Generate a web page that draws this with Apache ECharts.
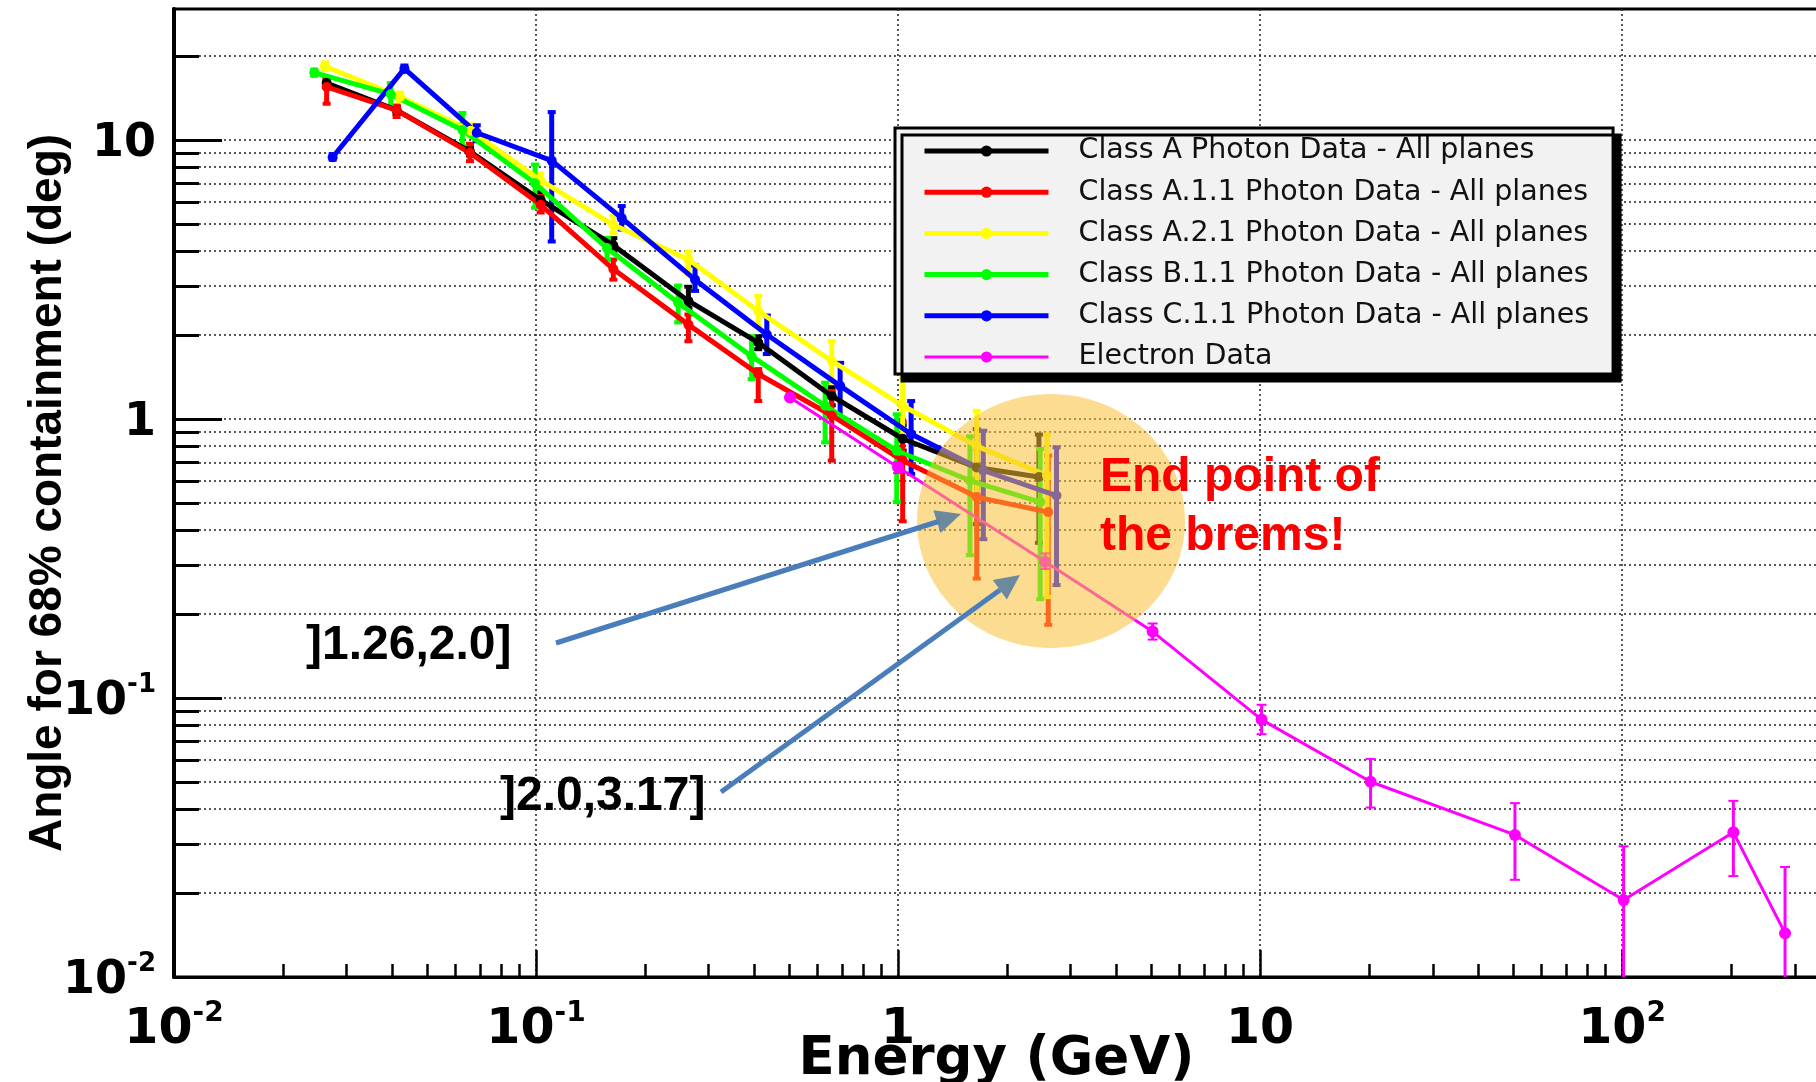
<!DOCTYPE html>
<html><head><meta charset="utf-8">
<script src="https://cdn.jsdelivr.net/npm/echarts@6/dist/echarts.min.js"></script>
<style>html,body{margin:0;padding:0;background:#fff}#c{width:1816px;height:1082px}</style>
</head><body><div id="c"></div>
<script>
// ---------- data ----------
const seriesNames = [
  'Class A Photon Data - All planes',
  'Class A.1.1 Photon Data - All planes',
  'Class A.2.1 Photon Data - All planes',
  'Class B.1.1 Photon Data - All planes',
  'Class C.1.1 Photon Data - All planes',
  'Electron Data'
];
const seriesColors = ['#000000', '#ff0000', '#ffff00', '#00ff00', '#0000ff', '#ff00ff'];

const classA_E     = [0.0264, 0.0412, 0.0657, 0.103, 0.1635, 0.2636, 0.411, 0.656, 1.03, 1.65, 2.45];
const classA_theta = [16.0, 12.8, 9.1, 6.1, 4.2, 2.65, 1.88, 1.21, 0.85, 0.67, 0.62];
const classA_lo    = [15.5, 12.4, 8.8, 5.8, 4.0, 2.5, 1.78, 1.12, 0.77, 0.42, 0.36];
const classA_hi    = [16.6, 13.2, 9.4, 6.5, 4.45, 2.98, 1.98, 1.30, 0.95, 0.92, 0.88];

const classA11_E     = [0.0264, 0.0412, 0.0657, 0.103, 0.1635, 0.2636, 0.411, 0.656, 1.03, 1.65, 2.6];
const classA11_theta = [15.5, 12.8, 9.0, 5.86, 3.45, 2.18, 1.45, 1.03, 0.71, 0.525, 0.464];
const classA11_lo    = [13.5, 12.1, 8.4, 5.5, 3.16, 1.90, 1.16, 0.71, 0.43, 0.268, 0.183];
const classA11_hi    = [16.6, 13.3, 9.7, 6.3, 3.73, 2.37, 1.51, 1.26, 0.98, 0.785, 0.74];

const classA21_E     = [0.0261, 0.0421, 0.066, 0.1025, 0.1635, 0.2636, 0.411, 0.656, 1.03, 1.65, 2.58];
const classA21_theta = [18.4, 14.3, 10.8, 7.2, 4.97, 3.73, 2.44, 1.615, 1.116, 0.80, 0.627];
const classA21_lo    = [17.8, 13.8, 10.3, 6.8, 4.65, 3.30, 2.15, 1.35, 0.87, 0.53, 0.23];
const classA21_hi    = [19.0, 14.8, 11.4, 7.6, 5.34, 3.99, 2.76, 1.90, 1.40, 1.07, 0.88];

const classB11_E     = [0.0244, 0.0397, 0.0626, 0.0994, 0.157, 0.247, 0.394, 0.629, 0.992, 1.58, 2.47];
const classB11_theta = [17.45, 14.6, 10.86, 7.0, 4.1, 2.61, 1.68, 1.116, 0.77, 0.602, 0.504];
const classB11_lo    = [17.0, 13.1, 9.5, 5.72, 3.73, 2.22, 1.39, 0.825, 0.504, 0.325, 0.226];
const classB11_hi    = [17.9, 16.0, 12.5, 8.17, 4.46, 3.01, 1.98, 1.35, 1.04, 0.867, 0.781];

const classC11_E     = [0.02743, 0.0433, 0.0686, 0.1105, 0.1725, 0.275, 0.434, 0.692, 1.087, 1.72, 2.74];
const classC11_theta = [8.68, 18.03, 10.62, 8.44, 5.25, 3.16, 2.01, 1.315, 0.884, 0.654, 0.532];
const classC11_lo    = [8.5, 17.6, 9.9, 4.33, 4.78, 2.88, 1.71, 1.01, 0.636, 0.371, 0.254];
const classC11_hi    = [8.9, 18.5, 11.3, 12.6, 5.8, 3.55, 2.35, 1.59, 1.16, 0.908, 0.792];

const electron_E     = [0.503, 1.0, 2.55, 5.05, 10.1, 20.2, 50.6, 101, 203, 282];
const electron_theta = [1.195, 0.672, 0.308, 0.173, 0.0837, 0.0501, 0.0323, 0.01888, 0.0330, 0.01436];
const electron_lo    = [1.17, 0.64, 0.29, 0.162, 0.0742, 0.0405, 0.0223, 0.0084, 0.0230, 0.0040];
const electron_hi    = [1.22, 0.70, 0.33, 0.185, 0.0946, 0.0605, 0.0420, 0.0294, 0.0428, 0.0248];

const xMajorTicks = [0.01, 0.1, 1, 10, 100];
const xMinorTicks = [0.02,0.03,0.04,0.05,0.06,0.07,0.08,0.09, 0.2,0.3,0.4,0.5,0.6,0.7,0.8,0.9,
                     2,3,4,5,6,7,8,9, 20,30,40,50,60,70,80,90, 200,300];
const yMajorTicks = [0.01, 0.1, 1, 10];
const yMinorTicks = [0.02,0.03,0.04,0.05,0.06,0.07,0.08,0.09, 0.2,0.3,0.4,0.5,0.6,0.7,0.8,0.9,
                     2,3,4,5,6,7,8,9, 20];

const xTitle = 'Energy (GeV)';
const yTitle = 'Angle for 68% containment (deg)';

// ---------- build ----------
const allE = [classA_E, classA11_E, classA21_E, classB11_E, classC11_E, electron_E];
const allT = [classA_theta, classA11_theta, classA21_theta, classB11_theta, classC11_theta, electron_theta];
const allLo = [classA_lo, classA11_lo, classA21_lo, classB11_lo, classC11_lo, electron_lo];
const allHi = [classA_hi, classA11_hi, classA21_hi, classB11_hi, classC11_hi, electron_hi];

const BOLD = "'DejaVu Sans', sans-serif";
function powLabel(v) {
  const e = Math.round(Math.log10(v));
  if (e === 0) return '{b|1}';
  if (e === 1) return '{b|10}';
  return '{b|10}{s|' + e + '}';
}
function makeRich(big, small) {
  return {
    b: {fontFamily: BOLD, fontWeight: 'bold', fontSize: big, lineHeight: 60, color: '#000'},
    s: {fontFamily: BOLD, fontWeight: 'bold', fontSize: small, lineHeight: small, verticalAlign: 'top', color: '#000'}
  };
}
const gridDots = {color: '#222', type: [2, 3], width: 1.5};

const series = [];
for (let i = 0; i < 6; i++) {
  const isE = i === 5;
  const color = seriesColors[i];
  series.push({
    type: 'line', name: seriesNames[i],
    data: allE[i].map((e, k) => [e, allT[i][k]]),
    symbol: 'circle', symbolSize: isE ? 12 : 10,
    lineStyle: {color: color, width: isE ? 3 : 5},
    itemStyle: {color: color},
    animation: false, z: 3
  });
  series.push({
    type: 'custom', name: 'err' + i, clip: true, z: 3, animation: false,
    data: allE[i].map((e, k) => [e, allLo[i][k], allHi[i][k]]),
    encode: {x: 0, y: [1, 2]},
    renderItem: function (params, api) {
      const x = api.value(0);
      const p1 = api.coord([x, api.value(1)]);
      const p2 = api.coord([x, api.value(2)]);
      const cap = isE ? 5 : 4;
      const w = isE ? 3 : 5;
      const cw = isE ? 2 : 4;
      return {type: 'group', children: [
        {type: 'line', shape: {x1: p1[0], y1: p1[1], x2: p2[0], y2: p2[1]}, style: {stroke: color, lineWidth: w}},
        {type: 'line', shape: {x1: p1[0] - cap, y1: p1[1], x2: p1[0] + cap, y2: p1[1]}, style: {stroke: color, lineWidth: cw}},
        {type: 'line', shape: {x1: p2[0] - cap, y1: p2[1], x2: p2[0] + cap, y2: p2[1]}, style: {stroke: color, lineWidth: cw}}
      ]};
    }
  });
}

const legendData = seriesNames.map((n, i) => ({name: n, lineStyle: {width: i === 5 ? 3 : 5}}));

const chart = echarts.init(document.getElementById('c'), null, {renderer: 'canvas'});
chart.setOption({
  backgroundColor: '#ffffff',
  animation: false,
  grid: {left: 174, top: 9, right: -3, bottom: 105, show: true, borderColor: '#000', borderWidth: 3,
         backgroundColor: 'transparent', containLabel: false, outerBoundsMode: 'none'},
  xAxis: [
    {type: 'log', logBase: 10, min: 0.01, max: 350, position: 'bottom',
     axisLine: {show: true, onZero: false, lineStyle: {color: '#000', width: 3}},
     axisTick: {show: true, inside: true, length: 27, lineStyle: {color: '#000', width: 2.5}, customValues: xMajorTicks},
     axisLabel: {show: true, customValues: xMajorTicks, formatter: powLabel, rich: makeRich(49, 28), margin: 23},
     splitLine: {show: true, lineStyle: gridDots},
     name: xTitle, nameLocation: 'middle', nameGap: 57, nameMoveOverlap: false,
     nameTextStyle: {fontFamily: BOLD, fontWeight: 'bold', fontSize: 53, color: '#000', verticalAlign: 'top'}},
    {type: 'log', logBase: 10, min: 0.01, max: 350, position: 'bottom',
     axisLine: {show: false},
     axisTick: {show: true, inside: true, length: 13, lineStyle: {color: '#000', width: 2.5}, customValues: xMinorTicks},
     axisLabel: {show: false}, splitLine: {show: false}}
  ],
  yAxis: [
    {type: 'log', logBase: 10, min: 0.01, max: 29.5, position: 'left',
     axisLine: {show: true, onZero: false, lineStyle: {color: '#000', width: 4}},
     axisTick: {show: true, inside: true, length: 48, lineStyle: {color: '#000', width: 3}, customValues: yMajorTicks},
     axisLabel: {show: true, customValues: yMajorTicks, formatter: powLabel, rich: makeRich(46, 26), margin: 18, padding: [8, 0, 0, 0]},
     splitLine: {show: true, lineStyle: gridDots},
     name: yTitle, nameLocation: 'middle', nameGap: 103, nameRotate: 90, nameMoveOverlap: false,
     nameTextStyle: {fontFamily: "'Liberation Sans', Arial, sans-serif", fontWeight: 'bold', fontSize: 46, color: '#000'}},
    {type: 'log', logBase: 10, min: 0.01, max: 29.5, position: 'left',
     axisLine: {show: false},
     axisTick: {show: true, inside: true, length: 25, lineStyle: {color: '#000', width: 3}, customValues: yMinorTicks},
     axisLabel: {show: false},
     splitLine: {show: true, lineStyle: gridDots}}
  ],
  legend: {
    data: legendData, orient: 'vertical', left: 895, top: 128,
    padding: [8, 24, 2, 27], itemGap: 11.2, itemWidth: 124, itemHeight: 14,
    backgroundColor: '#f2f2f2', borderColor: '#000', borderWidth: 3, borderRadius: 0,
    shadowColor: '#000', shadowOffsetX: 7, shadowOffsetY: 7, shadowBlur: 0.5,
    selectedMode: false,
    textStyle: {fontFamily: "'DejaVu Sans', sans-serif", fontSize: 28.5, lineHeight: 30, color: '#111', padding: [0, 0, 0, 25]}
  },
  series: series,
  graphic: [
    {type: 'ellipse', shape: {cx: 1051, cy: 521, rx: 134, ry: 127}, style: {fill: 'rgba(247,192,55,0.55)'}, z: 100},
    {type: 'text', x: 1100, y: 478, z: 110, style: {text: 'End point of', font: 'bold 48px "Liberation Sans", Arial, sans-serif', fill: '#ff0000', verticalAlign: 'middle'}},
    {type: 'text', x: 1100, y: 537, z: 110, style: {text: 'the brems!', font: 'bold 48px "Liberation Sans", Arial, sans-serif', fill: '#ff0000', verticalAlign: 'middle'}},
    {type: 'text', x: 306, y: 646, z: 110, style: {text: ']1.26,2.0]', font: 'bold 48px "Liberation Sans", Arial, sans-serif', fill: '#000', verticalAlign: 'middle'}},
    {type: 'text', x: 500, y: 797, z: 110, style: {text: ']2.0,3.17]', font: 'bold 48px "Liberation Sans", Arial, sans-serif', fill: '#000', verticalAlign: 'middle'}},
    {type: 'line', z: 110, shape: {x1: 556, y1: 643, x2: 940, y2: 521}, style: {stroke: '#4a7ebb', lineWidth: 5}},
    {type: 'polygon', z: 111, shape: {points: [[961, 514], [940.6, 533], [933.4, 510.2]]}, style: {fill: '#5d7f9e', opacity: 0.9}},
    {type: 'line', z: 110, shape: {x1: 721, y1: 792, x2: 1000, y2: 590}, style: {stroke: '#4a7ebb', lineWidth: 5}},
    {type: 'polygon', z: 111, shape: {points: [[1020, 575], [1006.8, 599.4], [992.8, 580]]}, style: {fill: '#5d7f9e', opacity: 0.9}}
  ]
});
</script></body></html>
